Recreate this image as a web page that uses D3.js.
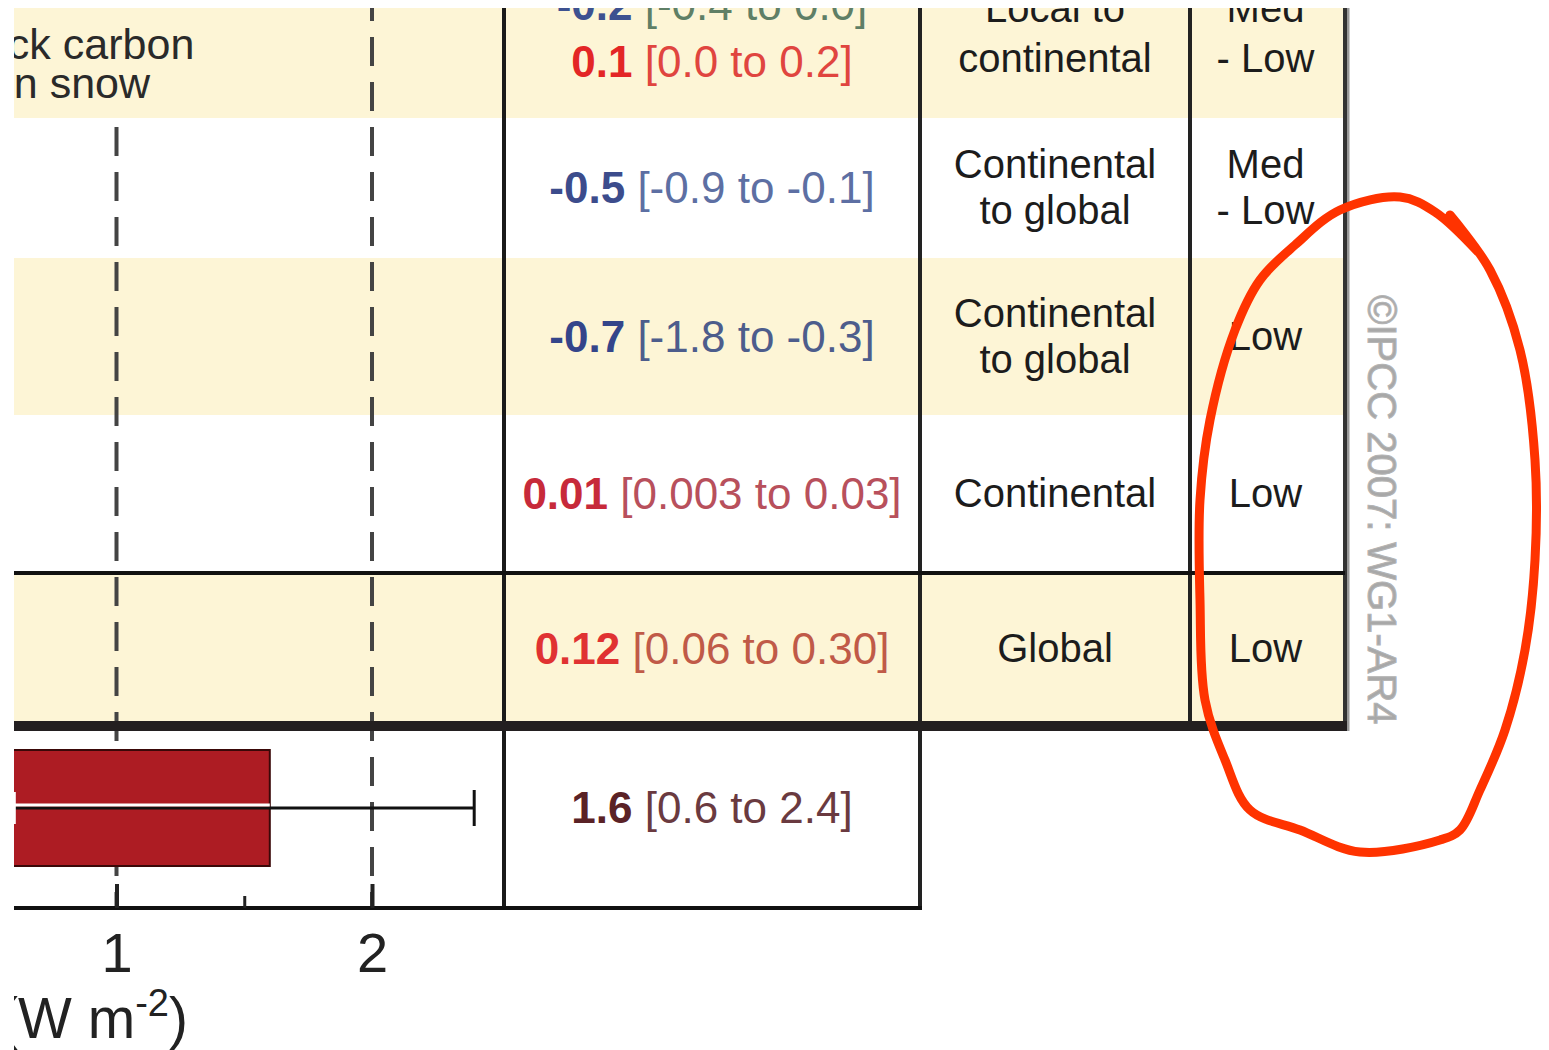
<!DOCTYPE html>
<html>
<head>
<meta charset="utf-8">
<script src="https://cdn.jsdelivr.net/npm/d3@7"></script>
<style>
  body { margin: 0; background: #fff; }
  svg { display: block; font-family: "Liberation Sans", Arial, sans-serif; }
</style>
</head>
<body>
<div id="container"></div>
<script>
/* DATA */
const rowLabels = [["Black carbon", "on snow"], [], [], [], [], []];
const bestEstimates = [["-0.2", "0.1"], ["-0.5"], ["-0.7"], ["0.01"], ["0.12"], ["1.6"]];
const ranges = [["[-0.4 to 0.0]", "[0.0 to 0.2]"], ["[-0.9 to -0.1]"], ["[-1.8 to -0.3]"],
                ["[0.003 to 0.03]"], ["[0.06 to 0.30]"], ["[0.6 to 2.4]"]];
const spatialScales = [["Local to", "continental"], ["Continental", "to global"],
                       ["Continental", "to global"], ["Continental"], ["Global"], []];
const understanding = [["Med", "- Low"], ["Med", "- Low"], ["Low"], ["Low"], ["Low"], []];
const totalValue = 1.6;
const totalRange = [0.6, 2.4];
const majorTicks = [1, 2];
const minorTicks = [1.5];
const axisTitle = "Radiative Forcing (W m";
const watermark = "\u00A9IPCC 2007: WG1-AR4";

/* LAYOUT */
const width = 1549, height = 1050;
const rowEdges = [-51, 118, 258, 415, 573, 724, 908];
const colX = { left: 14, panel: 504, value: 920, scale: 1190, level: 1345 };
const cream = "#fdf5d6";

// colours of value text, [bold part, bracket part]
const valueColors = [
  [["#3d5190", "#5f7f66"], ["#e32626", "#e0453f"]],
  [["#3c4c8c", "#5d6fa3"]],
  [["#34458a", "#4d5d8c"]],
  [["#c72a3a", "#b8505c"]],
  [["#e03232", "#c05a48"]],
  [["#5a2226", "#6a3a40"]]
];

const svg = d3.select("#container").append("svg")
  .attr("width", width)
  .attr("height", height);

svg.append("clipPath").attr("id", "crop")
  .append("rect").attr("x", 14).attr("y", 8).attr("width", width - 14).attr("height", height - 8);

const g = svg.append("g").attr("clip-path", "url(#crop)");

/* SCALES */
const x = d3.scaleLinear().domain([1, 2]).range([116.5, 372]);
const rowCenter = i => (rowEdges[i] + rowEdges[i + 1]) / 2;

/* ROW BACKGROUNDS */
g.selectAll("rect.band")
  .data(d3.range(5).filter(i => i % 2 === 0))
  .join("rect")
    .attr("class", "band")
    .attr("x", colX.left)
    .attr("y", i => rowEdges[i])
    .attr("width", colX.level - colX.left)
    .attr("height", i => rowEdges[i + 1] - rowEdges[i])
    .attr("fill", cream);

/* DASHED GRID LINES */
g.selectAll("line.grid")
  .data(majorTicks)
  .join("line")
    .attr("class", "grid")
    .attr("x1", d => x(d)).attr("x2", d => x(d))
    .attr("y1", 8).attr("y2", rowEdges[6])
    .attr("stroke", "#444")
    .attr("stroke-width", 4)
    .attr("stroke-dasharray", "29 16")
    .attr("stroke-dashoffset", 16);

/* TOTAL BAR WITH ERROR BAR */
const barY = 750, barH = 116, errY = barY + barH / 2;
g.append("rect")
  .attr("x", x(0))
  .attr("y", barY)
  .attr("width", x(totalValue) - x(0))
  .attr("height", barH)
  .attr("fill", "#ad1c23")
  .attr("stroke", "#3a0808")
  .attr("stroke-width", 2);

g.append("line")
  .attr("x1", x(totalRange[0])).attr("x2", x(totalRange[1]))
  .attr("y1", errY).attr("y2", errY)
  .attr("stroke", "#111").attr("stroke-width", 3);
g.append("line")
  .attr("x1", x(totalRange[0])).attr("x2", x(totalValue))
  .attr("y1", errY - 3).attr("y2", errY - 3)
  .attr("stroke", "#fff").attr("stroke-width", 3);
g.append("line")
  .attr("x1", x(totalRange[1])).attr("x2", x(totalRange[1]))
  .attr("y1", errY - 18).attr("y2", errY + 18)
  .attr("stroke", "#111").attr("stroke-width", 3);
g.append("line")
  .attr("x1", x(totalRange[0])).attr("x2", x(totalRange[0]))
  .attr("y1", errY - 16).attr("y2", errY + 16)
  .attr("stroke", "#fff").attr("stroke-width", 3);

/* TABLE LINES */
const hLine = (y, x2, w, c) => g.append("line")
  .attr("x1", colX.left).attr("x2", x2).attr("y1", y).attr("y2", y)
  .attr("stroke", c).attr("stroke-width", w);
const vLine = (xx, y2, w, c) => g.append("line")
  .attr("x1", xx).attr("x2", xx).attr("y1", 8).attr("y2", y2)
  .attr("stroke", c).attr("stroke-width", w);

vLine(colX.panel, rowEdges[6] + 2, 4, "#1a1a1a");
vLine(colX.value, rowEdges[6] + 2, 4, "#222");
vLine(colX.scale, 726, 4, "#222");
vLine(colX.level + 3, 731, 3, "#999");
vLine(colX.level, 726, 4, "#333");
hLine(rowEdges[4], colX.level, 4, "#111");
hLine(rowEdges[6], colX.value + 2, 4, "#111");
hLine(728, colX.level + 4, 4, "#999");
hLine(726, colX.level + 2, 10, "#231f20");

/* AXIS */
const axis = g.append("g")
  .attr("transform", `translate(0,${rowEdges[6]})`)
  .call(d3.axisBottom(x).tickValues(majorTicks).tickSize(-24).tickPadding(24).tickFormat(d3.format("d")));
axis.select(".domain").remove();
axis.selectAll(".tick line").attr("stroke", "#222").attr("stroke-width", 4);
axis.selectAll(".tick text")
  .attr("font-size", 56)
  .attr("font-family", "Liberation Sans, Arial, sans-serif")
  .attr("fill", "#222");

const minor = g.append("g")
  .attr("transform", `translate(0,${rowEdges[6]})`)
  .call(d3.axisBottom(x).tickValues(minorTicks).tickSize(-12).tickFormat(""));
minor.select(".domain").remove();
minor.selectAll(".tick line").attr("stroke", "#222").attr("stroke-width", 3);

const title = g.append("text")
  .attr("x", 188).attr("y", 1038)
  .attr("text-anchor", "end")
  .attr("font-size", 57)
  .attr("fill", "#222");
title.append("tspan").text(axisTitle);
title.append("tspan").attr("font-size", 38).attr("dy", -22).text("-2");
title.append("tspan").attr("dy", 22).text(")");

/* ROW LABELS (left panel, with a backing box that hides the grid line) */
rowLabels.forEach((lines, i) => {
  if (!lines.length) return;
  g.append("rect")
    .attr("x", colX.left).attr("y", rowEdges[i])
    .attr("width", 200).attr("height", rowEdges[i + 1] - rowEdges[i])
    .attr("fill", i % 2 === 0 ? cream : "#fff");
  lines.forEach((t, j) => {
    g.append("text")
      .attr("x", 70)
      .attr("y", 59 + j * 39)
      .attr("text-anchor", "middle")
      .attr("font-size", 43)
      .attr("fill", "#2a2a2a")
      .text(t);
  });
});

/* VALUE COLUMN */
const valueCenter = (colX.panel + colX.value) / 2;
bestEstimates.forEach((vals, i) => {
  const c = i === 5 ? errY : rowCenter(i);
  vals.forEach((v, j) => {
    const y = c + (j - (vals.length - 1) / 2) * 57 + 15;
    const t = g.append("text")
      .attr("x", valueCenter).attr("y", y)
      .attr("text-anchor", "middle")
      .attr("font-size", 44);
    t.append("tspan").attr("font-weight", "bold").attr("fill", valueColors[i][j][0]).text(v);
    t.append("tspan").attr("fill", valueColors[i][j][1]).text(" " + ranges[i][j]);
  });
});

/* SPATIAL SCALE AND LEVEL OF UNDERSTANDING */
const textColumn = (data, cx) => data.forEach((lines, i) => {
  lines.forEach((t, j) => {
    g.append("text")
      .attr("x", cx)
      .attr("y", rowCenter(i) + (j - (lines.length - 1) / 2) * (i === 0 ? 50 : 46) + 13)
      .attr("text-anchor", "middle")
      .attr("font-size", 40)
      .attr("fill", "#1c1c1c")
      .text(t);
  });
});
textColumn(spatialScales, (colX.value + colX.scale) / 2);
textColumn(understanding, (colX.scale + colX.level) / 2 - 2);

/* WATERMARK */
svg.append("text")
  .attr("transform", "translate(1368,295) rotate(90)")
  .attr("font-size", 40)
  .attr("fill", "#a8a8a8")
  .attr("stroke", "#b4b4b4")
  .attr("stroke-width", 1)
  .text(watermark);

/* RED HAND-DRAWN ANNOTATION */
const loop = [[1478, 252], [1435, 212], [1400, 197], [1340, 210], [1295, 245], [1260, 280],
  [1235, 330], [1210, 420], [1200, 500], [1200, 600], [1205, 700], [1225, 760], [1250, 810],
  [1300, 830], [1360, 852], [1440, 840], [1460, 830], [1480, 790], [1505, 730], [1525, 650],
  [1535, 560], [1535, 460], [1520, 350], [1490, 270], [1450, 215]];
svg.append("path")
  .attr("d", d3.line().curve(d3.curveCatmullRom)(loop))
  .attr("fill", "none")
  .attr("stroke", "#ff3300")
  .attr("stroke-width", 9)
  .attr("stroke-linecap", "round")
  .attr("stroke-linejoin", "round");
</script>
</body>
</html>
